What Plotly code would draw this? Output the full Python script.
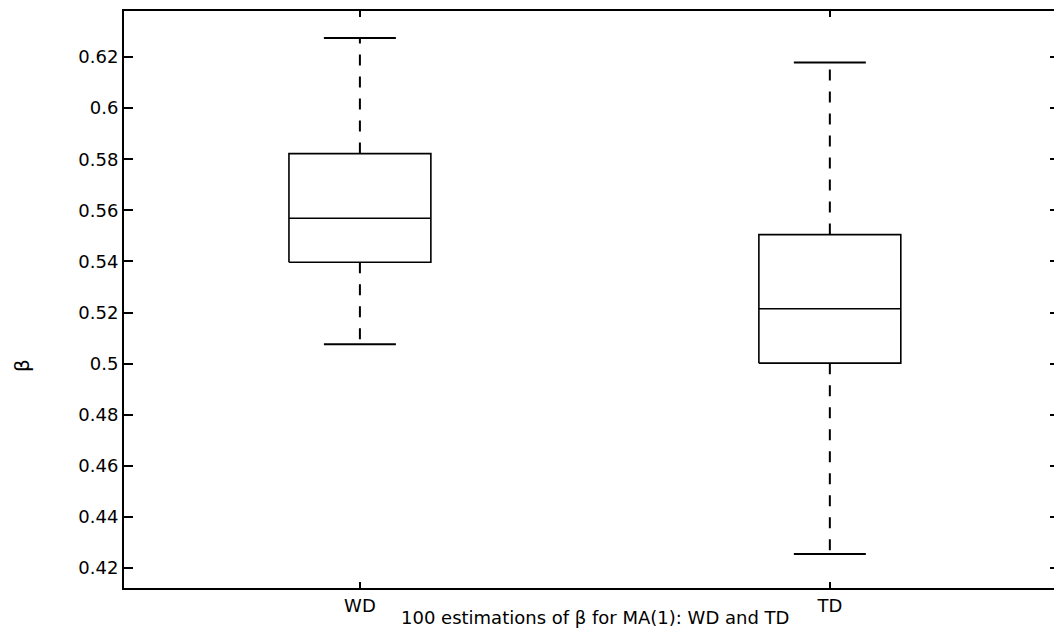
import plotly.graph_objects as go

# Data
groups = ["WD", "TD"]
lower_whisker = [0.5076, 0.4255]
q1 = [0.5397, 0.5002]
median = [0.5569, 0.5215]
q3 = [0.5822, 0.5505]
upper_whisker = [0.6274, 0.6178]
y_ticks = [0.42, 0.44, 0.46, 0.48, 0.5, 0.52, 0.54, 0.56, 0.58, 0.6, 0.62]
y_tick_text = ["0.42", "0.44", "0.46", "0.48", "0.5", "0.52", "0.54", "0.56", "0.58", "0.6", "0.62"]

positions = [1, 2]
BOX_HALF = 0.151
CAP_HALF = 0.0766
FONT = "DejaVu Sans"
FS = 18

fig = go.Figure()
for i, g in enumerate(groups):
    p = positions[i]
    # box outline
    fig.add_trace(go.Scatter(
        x=[p - BOX_HALF, p + BOX_HALF, p + BOX_HALF, p - BOX_HALF, p - BOX_HALF],
        y=[q1[i], q1[i], q3[i], q3[i], q1[i]],
        mode="lines", line=dict(color="black", width=1.6), showlegend=False, hoverinfo="skip"))
    # median
    fig.add_trace(go.Scatter(
        x=[p - BOX_HALF, p + BOX_HALF], y=[median[i], median[i]],
        mode="lines", line=dict(color="black", width=1.6), showlegend=False, hoverinfo="skip"))
    # whiskers (dashed)
    fig.add_trace(go.Scatter(
        x=[p, p], y=[q3[i], upper_whisker[i]],
        mode="lines", line=dict(color="black", width=2, dash="11px,11px"), showlegend=False, hoverinfo="skip"))
    fig.add_trace(go.Scatter(
        x=[p, p], y=[q1[i], lower_whisker[i]],
        mode="lines", line=dict(color="black", width=2, dash="11px,11px"), showlegend=False, hoverinfo="skip"))
    # caps
    for v in (upper_whisker[i], lower_whisker[i]):
        fig.add_trace(go.Scatter(
            x=[p - CAP_HALF, p + CAP_HALF], y=[v, v],
            mode="lines", line=dict(color="black", width=2), showlegend=False, hoverinfo="skip"))

# dummy trace for right-side tick axis
fig.add_trace(go.Scatter(x=[None], y=[None], yaxis="y2", showlegend=False, hoverinfo="skip"))

yrange = [0.4122, 0.638]
fig.update_layout(
    width=1054, height=629,
    margin=dict(l=124, r=0, t=11, b=41),
    paper_bgcolor="white", plot_bgcolor="white",
    font=dict(family=FONT, size=FS, color="black"),
    xaxis=dict(range=[0.498, 2.477], tickvals=positions, ticktext=groups,
               ticks="inside", ticklen=6, tickwidth=1.5, tickcolor="black",
               showline=True, linecolor="black", linewidth=2, mirror="ticks",
               showgrid=False, zeroline=False, fixedrange=True,
               ticklabelstandoff=0),
    yaxis=dict(range=yrange, tickvals=y_ticks, ticktext=y_tick_text,
               ticks="inside", ticklen=9, tickwidth=1.5, tickcolor="black",
               showline=True, linecolor="black", linewidth=2, mirror=False,
               showgrid=False, zeroline=False, fixedrange=True),
    yaxis2=dict(range=yrange, overlaying="y", side="right", tickvals=y_ticks,
                showticklabels=False, ticks="inside", ticklen=4, tickwidth=1.5,
                tickcolor="black", showline=False, showgrid=False, zeroline=False),
    annotations=[
        dict(text="100 estimations of β for MA(1): WD and TD", xref="x", yref="paper",
             x=1.5, y=-0.0503, xanchor="center", yanchor="middle", showarrow=False,
             font=dict(family=FONT, size=FS, color="black")),
        dict(text="β", xref="paper", yref="paper", x=-0.109, y=0.386,
             xanchor="center", yanchor="middle", textangle=-90, showarrow=False,
             font=dict(family=FONT, size=20, color="black")),
    ],
)

fig.write_html("out.html")
